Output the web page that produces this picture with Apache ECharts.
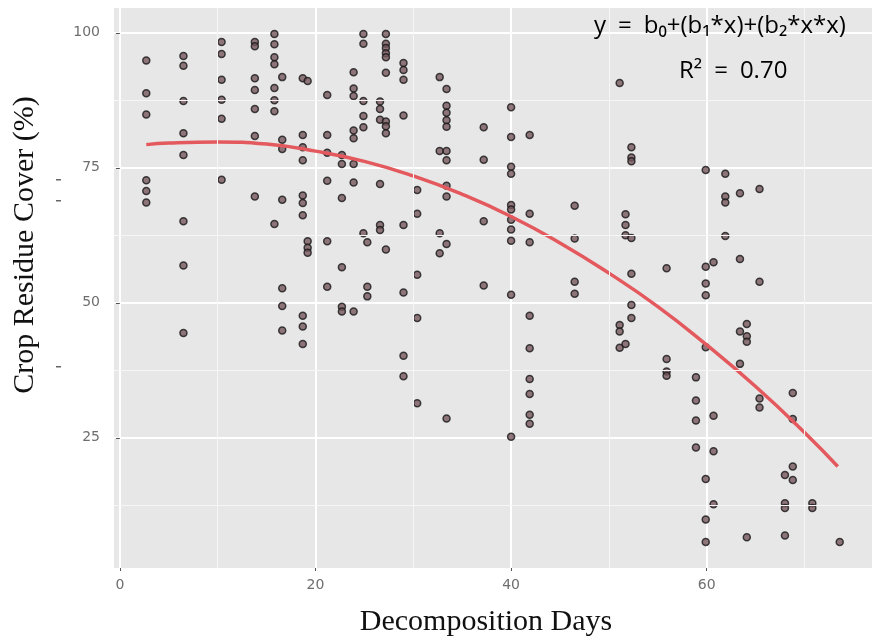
<!DOCTYPE html>
<html>
<head>
<meta charset="utf-8">
<script src="https://cdn.jsdelivr.net/npm/echarts@6/dist/echarts.min.js"></script>
<style>
  html, body { margin: 0; padding: 0; background: #ffffff; }
  #chart { width: 872px; height: 643px; }
</style>
</head>
<body>
<div id="chart"></div>
<script>
// Sampling days and the residue cover measured on each day (%)
const sampleDays = [2.7, 6.5, 10.4, 13.8, 15.8, 16.6, 18.7, 19.2, 21.2, 22.7, 23.9, 24.9, 25.3,
  26.6, 27.2, 29.0, 30.4, 32.7, 33.4, 37.2, 40.0, 41.9, 46.5, 51.1, 51.7, 52.3, 55.9, 58.9,
  59.9, 60.7, 61.9, 63.4, 64.1, 65.4, 68.0, 68.8, 70.8, 73.6];

const coverByDay = [
  [94.9, 88.8, 84.9, 72.7, 70.7, 68.6],
  [95.7, 93.9, 87.4, 81.4, 77.4, 65.1, 56.9, 44.4],
  [98.3, 96.1, 91.3, 87.6, 84.1, 72.8],
  [98.3, 97.5, 91.6, 89.4, 85.9, 80.9, 69.7],
  [99.8, 97.9, 95.5, 94.2, 89.8, 87.5, 85.5, 64.6],
  [91.8, 80.2, 78.5, 69.1, 52.7, 49.4, 44.9],
  [91.6, 81.1, 78.8, 76.4, 69.9, 68.5, 66.2, 47.6, 45.6, 42.4],
  [91.1, 61.4, 60.2, 59.3],
  [88.5, 81.1, 77.8, 72.6, 61.4, 53.0],
  [77.4, 75.7, 69.4, 56.6, 49.3, 48.4],
  [92.7, 89.7, 88.3, 81.9, 80.5, 75.7, 72.3, 48.4],
  [99.8, 98.0, 87.4, 84.6, 82.5, 62.9],
  [61.2, 53.0, 51.2],
  [87.3, 85.9, 83.9, 72.0, 64.4, 63.5],
  [99.8, 98.0, 97.2, 96.2, 95.5, 92.6, 83.6, 82.7, 81.4, 59.9],
  [94.4, 93.1, 91.3, 84.7, 64.4, 51.9, 40.2, 36.4],
  [70.9, 66.5, 55.2, 47.2, 31.4],
  [91.8, 78.1, 62.9, 59.2],
  [89.6, 86.5, 85.2, 83.8, 82.6, 78.1, 76.4, 71.7, 69.7, 60.9, 28.6],
  [82.5, 76.5, 65.1, 53.2],
  [86.2, 80.7, 75.2, 73.9, 68.1, 67.3, 65.4, 63.6, 61.5, 51.5, 25.2],
  [81.1, 66.5, 61.2, 47.6, 41.6, 35.9, 33.1, 29.3, 27.6],
  [68.0, 61.9, 53.9, 51.7],
  [90.7, 45.9, 44.7, 41.7],
  [66.4, 64.4, 62.5, 42.4],
  [78.8, 76.9, 76.2, 62.0, 55.4, 49.6, 47.2],
  [56.4, 39.6, 37.3, 36.5],
  [36.2, 31.9, 28.2, 23.2],
  [74.6, 56.7, 53.6, 51.4, 41.8, 17.4, 9.9, 5.7],
  [57.5, 29.1, 22.5, 12.7],
  [73.9, 69.7, 68.6, 62.4],
  [70.3, 58.1, 44.7, 38.7],
  [46.1, 43.8, 42.8, 6.6],
  [71.1, 53.9, 32.3, 30.6],
  [18.1, 12.9, 12.0, 6.9],
  [33.3, 28.5, 19.7, 17.2],
  [12.9, 12.0],
  [5.7]
];

// Quadratic fit curve, read along its length
const fitDays  = [2.7, 5, 10, 15, 20, 25, 30, 35, 40, 45, 50, 55, 60, 65, 70, 73.4];
const fitCover = [79.3, 79.6, 79.8, 79.4, 78.1, 76.2, 73.5, 70.1, 66.0, 61.1, 55.5, 49.3, 42.2, 34.5, 26.0, 19.7];

// Axis ticks and the finer grid between them
const xTickValues  = [0, 20, 40, 60];
const yTickValues  = [25, 50, 75, 100];
const xMinorValues = [10, 30, 50, 70];
const yMinorValues = [12.5, 37.5, 62.5, 87.5];

const points = [];
sampleDays.forEach((day, i) => {
  coverByDay[i].forEach(v => points.push([day, v]));
});
const fitLine = fitDays.map((d, i) => [d, fitCover[i]]);

const tickLabelStyle = { color: '#6e6e6e', fontSize: 14, fontFamily: 'DejaVu Sans' };
const titleFont = '30px "Liberation Serif", "Times New Roman", serif';
const formulaFont = '24px "Open Sans", "DejaVu Sans", sans-serif';

const chart = echarts.init(document.getElementById('chart'), null, { renderer: 'canvas' });
chart.setOption({
  animation: false,
  backgroundColor: '#ffffff',
  grid: {
    left: 114, right: 0, top: 8, bottom: 75,
    show: true, backgroundColor: '#e7e7e7', borderWidth: 0
  },
  xAxis: {
    type: 'value',
    min: -0.6, max: 76.9,
    axisLine: { show: false },
    axisTick: { show: true, customValues: xTickValues, length: 3, lineStyle: { color: '#555555', width: 1 } },
    axisLabel: Object.assign({ customValues: xTickValues, margin: 10 }, tickLabelStyle),
    splitLine: { show: true, lineStyle: { color: '#ffffff', width: 2 } }
  },
  yAxis: {
    type: 'value',
    min: 0.9, max: 104.6,
    axisLine: { show: false },
    axisTick: { show: true, customValues: yTickValues, length: 4, lineStyle: { color: '#555555', width: 1 } },
    axisLabel: Object.assign({ customValues: yTickValues, margin: 14 }, tickLabelStyle),
    splitLine: { show: true, lineStyle: { color: '#ffffff', width: 2 } }
  },
  series: [
    {
      // finer grid lines
      type: 'line', data: [], z: 1, silent: true,
      markLine: {
        silent: true, symbol: 'none', animation: false,
        label: { show: false },
        lineStyle: { color: '#f6f6f6', width: 1, type: 'solid' },
        emphasis: { disabled: true },
        data: xMinorValues.map(v => ({ xAxis: v })).concat(yMinorValues.map(v => ({ yAxis: v })))
      }
    },
    {
      type: 'scatter',
      data: points,
      symbol: 'circle',
      symbolSize: 7,
      z: 2,
      itemStyle: { color: '#76585e', borderColor: '#161616', borderWidth: 1.5 }
    },
    {
      type: 'line',
      data: fitLine,
      smooth: true,
      showSymbol: false,
      z: 3,
      lineStyle: { color: '#e4595d', width: 3.5 }
    }
  ],
  graphic: {
    elements: [
      {
        type: 'text', x: 486, y: 622, z: 100,
        style: { text: 'Decomposition Days', font: titleFont, fill: '#111111', textAlign: 'center', textVerticalAlign: 'middle' }
      },
      {
        type: 'text', x: 25, y: 245, rotation: Math.PI / 2, z: 100,
        style: { text: 'Crop Residue Cover (%)', font: titleFont, fill: '#111111', textAlign: 'center', textVerticalAlign: 'middle' }
      },
      {
        type: 'text', x: 594, y: 26, z: 100,
        style: {
          text: 'y\u2002=\u2002b\u2080+(b\u2081*x)+(b\u2082*x*x)',
          font: formulaFont, fill: '#000000',
          textAlign: 'left', textVerticalAlign: 'middle'
        }
      },
      {
        type: 'text', x: 679, y: 71, z: 100,
        style: {
          text: 'R\u00B2\u2002=\u20020.70',
          font: formulaFont, fill: '#000000',
          textAlign: 'left', textVerticalAlign: 'middle'
        }
      },
      // faint tick marks left of the axis title
      { type: 'rect', z: 100, shape: { x: 56, y: 179, width: 5, height: 1.5 }, style: { fill: '#666666' } },
      { type: 'rect', z: 100, shape: { x: 56, y: 200, width: 5, height: 1.5 }, style: { fill: '#666666' } },
      { type: 'rect', z: 100, shape: { x: 56, y: 366, width: 5, height: 1.5 }, style: { fill: '#666666' } }
    ]
  }
});
</script>
</body>
</html>
